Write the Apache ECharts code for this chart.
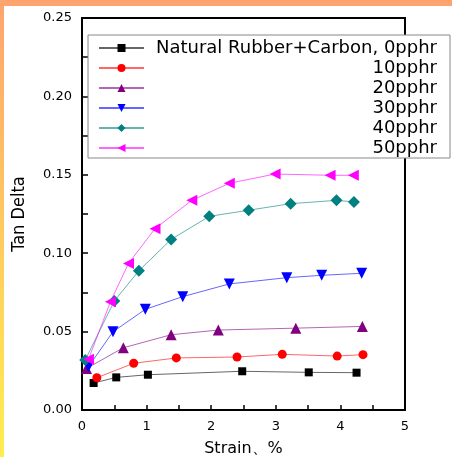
<!DOCTYPE html>
<html>
<head>
<meta charset="utf-8">
<script src="https://cdn.jsdelivr.net/npm/echarts@6/dist/echarts.min.js"></script>
<style>
html, body { margin: 0; padding: 0; background: #fff; }
#main { width: 452px; height: 457px; }
</style>
</head>
<body>
<div id="main"></div>
<script>
// series labels (legend text)
var names = ['Natural Rubber+Carbon, 0pphr', '10pphr', '20pphr', '30pphr', '40pphr', '50pphr']

// strain (%) and tan delta
var x0 = [0.18, 0.53, 1.02, 2.48, 3.51, 4.25]
var y0 = [0.0172, 0.0208, 0.0225, 0.0247, 0.0240, 0.0238]
var x10 = [0.23, 0.80, 1.46, 2.40, 3.10, 3.95, 4.35]
var y10 = [0.0206, 0.0298, 0.0332, 0.0338, 0.0355, 0.0344, 0.0353]
var x20 = [0.07, 0.64, 1.38, 2.11, 3.31, 4.34]
var y20 = [0.0265, 0.0397, 0.0480, 0.0510, 0.0522, 0.0533]
var x30 = [0.10, 0.48, 0.98, 1.56, 2.28, 3.17, 3.71, 4.33]
var y30 = [0.0276, 0.0499, 0.0642, 0.0723, 0.0804, 0.0844, 0.0859, 0.0872]
var x40 = [0.05, 0.50, 0.88, 1.38, 1.97, 2.58, 3.23, 3.94, 4.21]
var y40 = [0.0319, 0.0695, 0.0888, 0.1088, 0.1235, 0.1274, 0.1316, 0.1337, 0.1327]
var x50 = [0.10, 0.44, 0.72, 1.13, 1.70, 2.28, 2.99, 3.84, 4.20]
var y50 = [0.0323, 0.0690, 0.0935, 0.1156, 0.1337, 0.1446, 0.1505, 0.1497, 0.1497]

var xTicks = [0, 1, 2, 3, 4, 5]
var yTicks = ['0.00', '0.05', '0.10', '0.15', '0.20', '0.25']

var colors = ['#000000', '#ff0000', '#800080', '#0000ff', '#008080', '#ff00ff']
var symbols = ['rect', 'circle', 'triangle', 'triangle', 'diamond', 'triangle']
var rotates = [0, 0, 0, 180, 0, 90]
var sizes = [8, 9, 11, 11, 12, 11]

function pairs (xs, ys) {
  return xs.map(function (v, i) { return [v, ys[i]] })
}
var allData = [pairs(x0, y0), pairs(x10, y10), pairs(x20, y20), pairs(x30, y30), pairs(x40, y40), pairs(x50, y50)]

var font = "'DejaVu Sans', sans-serif"

var series = names.map(function (n, i) {
  return {
    name: n,
    type: 'line',
    data: allData[i],
    symbol: symbols[i],
    symbolSize: sizes[i],
    symbolRotate: rotates[i],
    showAllSymbol: true,
    itemStyle: { color: colors[i] },
    lineStyle: { color: colors[i], width: 1, opacity: 0.6 },
    emphasis: { disabled: true },
    z: 3
  }
})

var myChart = echarts.init(document.getElementById('main'), null, { renderer: 'canvas' })
myChart.setOption({
  animation: false,
  backgroundColor: '#ffffff',
  graphic: [
    { type: 'rect', left: 0, top: 0, shape: { width: 452, height: 6 }, style: { fill: '#ffa46e' }, z: 100 },
    {
      type: 'rect', left: 0, top: 0, shape: { width: 4, height: 457 }, z: 100,
      style: {
        fill: new echarts.graphic.LinearGradient(0, 0, 0, 1, [
          { offset: 0, color: '#ffa46e' },
          { offset: 1, color: '#ffee50' }
        ])
      }
    }
  ],
  grid: {
    left: 82, right: 47, top: 18, bottom: 47,
    outerBoundsMode: 'none',
    show: true, borderColor: '#000', borderWidth: 2, backgroundColor: 'transparent'
  },
  legend: {
    orient: 'vertical',
    left: 88,
    top: 35,
    padding: [4, 13, 1, 10],
    itemGap: 2,
    itemWidth: 45,
    itemHeight: 10,
    backgroundColor: '#ffffff',
    borderColor: '#888888',
    borderWidth: 1,
    z: 10,
    data: names,
    formatter: function (n) { return '{t|' + n + '}' },
    textStyle: {
      rich: {
        t: { width: 288, align: 'right', fontSize: 18, lineHeight: 18, fontFamily: font, color: '#000' }
      }
    }
  },
  xAxis: {
    type: 'value',
    min: 0, max: 5, interval: 1,
    name: 'Strain、%',
    nameLocation: 'middle',
    nameGap: 31,
    nameTextStyle: { fontSize: 16, fontFamily: font, color: '#000' },
    axisLine: { show: true, lineStyle: { color: '#000', width: 2 } },
    axisTick: { show: true, inside: true, length: 5, lineStyle: { color: '#000', width: 1.5 } },
    minorTick: { show: true, splitNumber: 2, length: 5, lineStyle: { color: '#000', width: 1.5 } },
    splitLine: { show: false },
    axisLabel: {
      margin: 10, fontSize: 13, fontFamily: font, color: '#000',
      formatter: function (v) { return xTicks.indexOf(v) >= 0 ? String(v) : '' }
    }
  },
  yAxis: {
    type: 'value',
    min: 0, max: 0.25, interval: 0.05,
    name: 'Tan Delta',
    nameLocation: 'middle',
    nameGap: 54,
    nameTextStyle: { fontSize: 18, fontFamily: "'Liberation Sans Narrow', 'DejaVu Sans Condensed', sans-serif", color: '#000' },
    axisLine: { show: true, lineStyle: { color: '#000', width: 2 } },
    axisTick: { show: true, inside: true, length: 6, lineStyle: { color: '#000', width: 1.5 } },
    minorTick: { show: true, splitNumber: 2, length: 6, lineStyle: { color: '#000', width: 1.5 } },
    splitLine: { show: false },
    axisLabel: {
      margin: 10, fontSize: 13, fontFamily: font, color: '#000',
      formatter: function (v) { return yTicks[Math.round(v / 0.05)] }
    }
  },
  series: series
})
</script>
</body>
</html>
